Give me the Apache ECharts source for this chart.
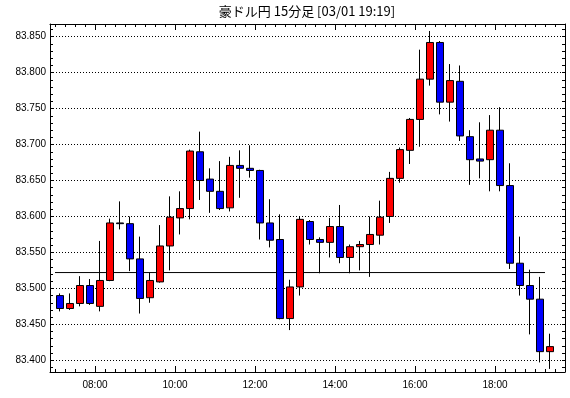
<!DOCTYPE html>
<html><head><meta charset="utf-8">
<script src="https://cdn.jsdelivr.net/npm/echarts@6/dist/echarts.min.js"></script>
<style>html,body{margin:0;padding:0;background:#fff}#c{width:570px;height:398px}</style>
</head><body><div id="c"></div>
<script>
// ---- data ----
const chartTitle = '豪ドル円 15分足 [03/01 19:19]';
const times = ['07:00','07:15','07:30','07:45','08:00','08:15','08:30','08:45','09:00','09:15','09:30','09:45',
  '10:00','10:15','10:30','10:45','11:00','11:15','11:30','11:45','12:00','12:15','12:30','12:45',
  '13:00','13:15','13:30','13:45','14:00','14:15','14:30','14:45','15:00','15:15','15:30','15:45',
  '16:00','16:15','16:30','16:45','17:00','17:15','17:30','17:45','18:00','18:15','18:30','18:45',
  '19:00','19:15'];
const opens  = [83.490,83.472,83.479,83.504,83.475,83.511,83.591,83.590,83.541,83.487,
                83.509,83.559,83.598,83.611,83.690,83.652,83.635,83.612,83.671,83.667,
                83.664,83.591,83.568,83.458,83.502,83.593,83.568,83.564,83.586,83.543,
                83.558,83.561,83.574,83.600,83.653,83.692,83.735,83.791,83.842,83.759,
                83.788,83.711,83.680,83.679,83.720,83.643,83.535,83.504,83.485,83.412];
const highs  = [83.493,83.493,83.517,83.513,83.566,83.597,83.621,83.600,83.572,83.522,
                83.588,83.628,83.635,83.693,83.718,83.667,83.677,83.683,83.692,83.699,
                83.665,83.624,83.603,83.512,83.600,83.595,83.571,83.598,83.616,83.561,
                83.566,83.600,83.622,83.662,83.696,83.737,83.832,83.858,83.844,83.812,
                83.810,83.720,83.731,83.741,83.752,83.674,83.572,83.526,83.516,83.437];
const lows   = [83.468,83.470,83.475,83.477,83.468,83.510,83.582,83.524,83.465,83.480,
                83.508,83.525,83.575,83.596,83.623,83.605,83.609,83.607,83.626,83.654,
                83.568,83.557,83.457,83.442,83.490,83.561,83.521,83.543,83.535,83.521,
                83.525,83.516,83.561,83.591,83.647,83.673,83.697,83.782,83.742,83.732,
                83.705,83.644,83.653,83.635,83.635,83.527,83.490,83.436,83.397,83.388];
const closes = [83.472,83.479,83.504,83.479,83.511,83.591,83.590,83.541,83.486,83.511,
                83.559,83.599,83.611,83.691,83.650,83.635,83.611,83.671,83.667,83.664,
                83.591,83.567,83.458,83.502,83.596,83.568,83.564,83.586,83.543,83.558,
                83.561,83.575,83.599,83.653,83.693,83.735,83.791,83.842,83.759,83.789,
                83.712,83.679,83.677,83.720,83.643,83.535,83.504,83.485,83.412,83.419];
const refLevel = 83.522;
const refStart = '07:00', refEnd = '19:15';
const yLabelTicks = [83.40, 83.45, 83.50, 83.55, 83.60, 83.65, 83.70, 83.75, 83.80, 83.85];
const xLabelTicks = ['08:00','10:00','12:00','14:00','16:00','18:00'];
const yRange = [83.3837, 83.8677];
const xRange = ['06:52.5', '19:45'];

// ---- helpers ----
const SLOT = 15;
const toMin = s => { const p = s.split(':'); return (+p[0]) * 60 + (+p[1]); };
const fmtTime = v => { const h = Math.floor(v / 60), m = Math.round(v % 60); return String(h).padStart(2,'0') + ':' + String(m).padStart(2,'0'); };
const xMin = toMin(xRange[0]), xMax = toMin(xRange[1]);
const candleData = times.map((t, i) => [toMin(t) + SLOT / 2, opens[i], closes[i], lows[i], highs[i]]);
const xMinorTicks = []; for (let v = Math.ceil(xMin / SLOT) * SLOT; v < xMax; v += SLOT) xMinorTicks.push(v);
const xMajorTicks = xLabelTicks.map(toMin);
const yMinorTicks = []; for (let k = Math.ceil(yRange[0] * 100); k / 100 < yRange[1]; k++) yMinorTicks.push(+(k / 100).toFixed(2));

const FONT = 'Liberation Sans';
const tickStyle = {color: '#000', width: 1};
function xAx(pos, ticks, len, line, labels) {
  return {type: 'value', position: pos, min: xMin, max: xMax,
    axisLine: {show: line, lineStyle: {color: '#000', width: 1}},
    axisTick: {show: true, inside: true, length: len, customValues: ticks, lineStyle: tickStyle},
    axisLabel: labels ? {show: true, customValues: xMajorTicks, formatter: fmtTime, margin: 8,
      color: '#000', fontSize: 10, fontFamily: FONT} : {show: false},
    splitLine: {show: false}};
}
function yAx(pos, ticks, showTick, line, labels, split) {
  return {type: 'value', position: pos, min: yRange[0], max: yRange[1],
    axisLine: {show: line, lineStyle: {color: '#000', width: 1}},
    axisTick: {show: showTick, inside: true, length: 3, customValues: ticks, lineStyle: tickStyle},
    axisLabel: labels ? {show: true, customValues: yLabelTicks, formatter: v => v.toFixed(3), margin: 4,
      color: '#000', fontSize: 10, fontFamily: FONT} : {show: false},
    splitLine: {show: split, lineStyle: {color: '#000', width: 1, type: [1, 2]}}};
}

const chart = echarts.init(document.getElementById('c'), null, {renderer: 'canvas'});
chart.setOption({
  animation: false,
  backgroundColor: '#fff',
  title: {text: chartTitle, left: 307, top: 5, padding: 0, textAlign: 'center',
    textStyle: {fontSize: 13, fontWeight: 'normal', color: '#000', fontFamily: 'Noto Sans CJK JP'}},
  grid: {left: 50, right: 5, top: 24, bottom: 26, outerBoundsMode: 'none', containLabel: false},
  xAxis: [
    xAx('bottom', xMinorTicks, 3, true, true),
    xAx('bottom', xMajorTicks, 6, false, false),
    xAx('top', xMinorTicks, 3, true, false),
    xAx('top', xMajorTicks, 6, false, false)
  ],
  yAxis: [
    yAx('left', yMinorTicks, true, true, true, false),
    yAx('left', yLabelTicks, false, false, false, true),
    yAx('right', yMinorTicks, true, true, false, false)
  ],
  series: [
    {type: 'line', xAxisIndex: 0, yAxisIndex: 0, silent: true, symbol: 'none',
      data: [[toMin(refStart), refLevel], [toMin(refEnd), refLevel]],
      lineStyle: {color: '#000', width: 1}, z: 1},
    {type: 'candlestick', xAxisIndex: 0, yAxisIndex: 0, data: candleData, barWidth: 7,
      itemStyle: {color: '#ff0000', color0: '#0000ff', borderColor: '#000', borderColor0: '#000',
        borderColorDoji: '#000', borderWidth: 1}, z: 2}
  ]
});
</script>
</body></html>
